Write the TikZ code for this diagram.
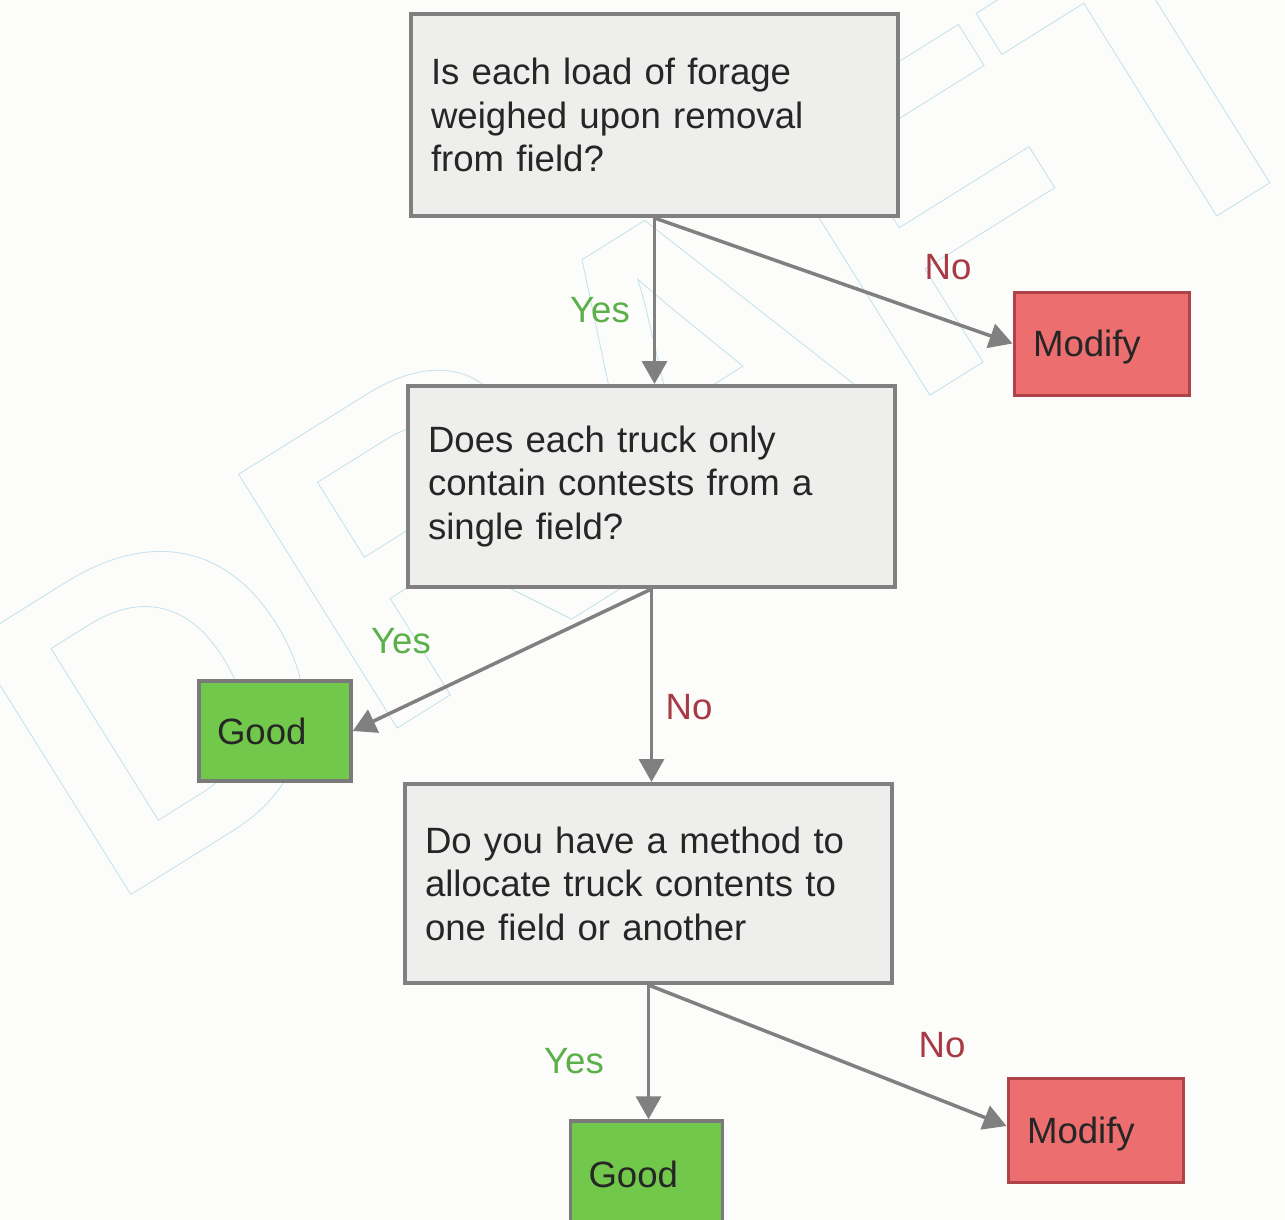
\documentclass[tikz,border=0pt]{standalone}
\usepackage{fontspec}
\setmainfont{Liberation Sans}
\usetikzlibrary{arrows.meta}

\definecolor{paper}{HTML}{FCFCFA}
\definecolor{qfill}{HTML}{EEEFED}
\definecolor{qdraw}{HTML}{808080}
\definecolor{modfill}{HTML}{EC6E6E}
\definecolor{moddraw}{HTML}{B0424A}
\definecolor{goodfill}{HTML}{72C84A}
\definecolor{gooddraw}{HTML}{7A7A7A}
\definecolor{linkgray}{HTML}{808080}
\definecolor{yesgreen}{HTML}{5BB04A}
\definecolor{nored}{HTML}{A83A46}
\definecolor{inkdark}{HTML}{262626}
\definecolor{wmblue}{HTML}{C4E0EF}

% outlined (stroked, unfilled) text for the watermark
\newcommand\strokedtext[1]{\special{pdf:literal direct 1 Tr 0.8 w}#1\special{pdf:literal direct 0 Tr}}
\newcommand\chartfont{\fontsize{36.6}{43.5}\selectfont}

\begin{document}
\begin{tikzpicture}[x=1pt,y=-1pt,
  question/.style={draw=qdraw, fill=qfill, line width=4pt, text=inkdark,
    minimum width=487pt, text width=447pt, inner xsep=20pt, align=left,
    font=\chartfont},
  modbox/.style={draw=moddraw, fill=modfill, line width=3pt, text=inkdark,
    minimum width=175pt, minimum height=103pt, text width=137pt,
    inner xsep=19pt, align=left, text depth=0pt, font=\chartfont},
  goodbox/.style={draw=gooddraw, fill=goodfill, line width=3.5pt, text=inkdark,
    minimum width=152pt, minimum height=100pt, text width=116pt,
    inner xsep=18pt, align=left, font=\chartfont},
  link/.style={draw=linkgray, line width=3.5pt,
    -{Triangle[length=23pt,width=25pt]}},
  yeslabel/.style={text=yesgreen, font=\chartfont},
  nolabel/.style={text=nored, font=\chartfont},
  watermark/.style={text=wmblue, inner sep=0pt,
    font=\fontsize{435}{435}\selectfont\bfseries}
]
  % page
  \fill[paper] (0,0) rectangle (1285,1220);
  \useasboundingbox (0,0) rectangle (1285,1220);

  % watermark behind the chart
  \node[watermark, rotate=32, anchor=base west] (wm) at (106,910) {\strokedtext{DRAFT}};

  % decisions
  \node[question, minimum height=202pt] (q1) at (654.5,115)
    {Is each load of forage\\weighed upon removal\\from field?};
  \node[question, minimum height=201pt] (q2) at (651.5,486.5)
    {Does each truck only\\contain contests from a\\single field?};
  \node[question, minimum height=199pt] (q3) at (648.5,883.5)
    {Do you have a method to\\allocate truck contents to\\one field or another};

  % outcomes
  \node[modbox] (mod1) at (1101.5,343.5) {Modify};
  \node[goodbox] (good1) at (275,731) {Good};
  \node[modbox, minimum height=104pt] (mod2) at (1095.5,1130) {Modify};
  \node[goodbox, minimum height=106pt] (good2) at (646.5,1174) {Good};

  % connectors
  \draw[link] (q1.south) -- (q1.south |- q2.north);
  \draw[link] (q1.south) -- (mod1.west);
  \draw[link] (q2.south) -- (good1.east);
  \draw[link] (q2.south) -- (q2.south |- q3.north);
  \draw[link] (q3.south) -- (q3.south |- good2.north);
  \draw[link] (q3.south) -- ([yshift=4pt]mod2.west);

  % branch labels
  \node[yeslabel] (y1) at (600,310) {Yes};
  \node[nolabel]  (n1) at (948,267) {No};
  \node[yeslabel] (y2) at (401,641) {Yes};
  \node[nolabel]  (n2) at (689,707) {No};
  \node[yeslabel] (y3) at (574,1061) {Yes};
  \node[nolabel]  (n3) at (942,1045) {No};
\end{tikzpicture}
\end{document}
